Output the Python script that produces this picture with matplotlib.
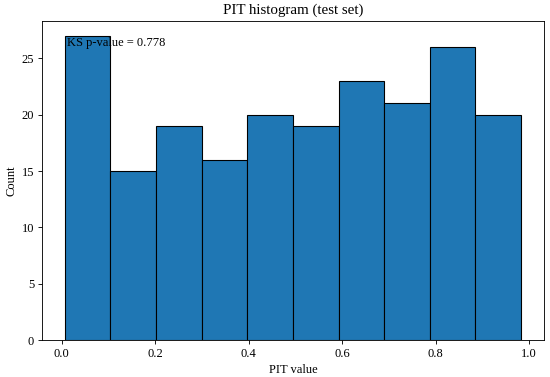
import matplotlib
matplotlib.use("Agg")
import matplotlib.pyplot as plt
import numpy as np

plt.rcParams['font.family'] = ['Liberation Serif', 'DejaVu Serif']
plt.rcParams['font.size'] = 11.5

bin_start = 0.006
bin_end = 0.983
counts = [27, 15, 19, 16, 20, 19, 23, 21, 26, 20]
ks_pvalue = 0.778

edges = np.linspace(bin_start, bin_end, len(counts) + 1)
centers = (edges[:-1] + edges[1:]) / 2

fig = plt.figure(figsize=(7, 4.8))
ax = fig.add_axes([0.076, 0.098, 0.913, 0.847])
ax.hist(centers, bins=edges, weights=counts, color='#1f77b4', edgecolor='black', linewidth=1.0)
ax.set_title('PIT histogram (test set)')
ax.set_xlabel('PIT value')
ax.set_ylabel('Count')
ax.text(0.05, 0.95, f'KS p-value = {ks_pvalue:.3f}', transform=ax.transAxes, va='top')
fig.savefig('out.png', dpi=550 / 7)
